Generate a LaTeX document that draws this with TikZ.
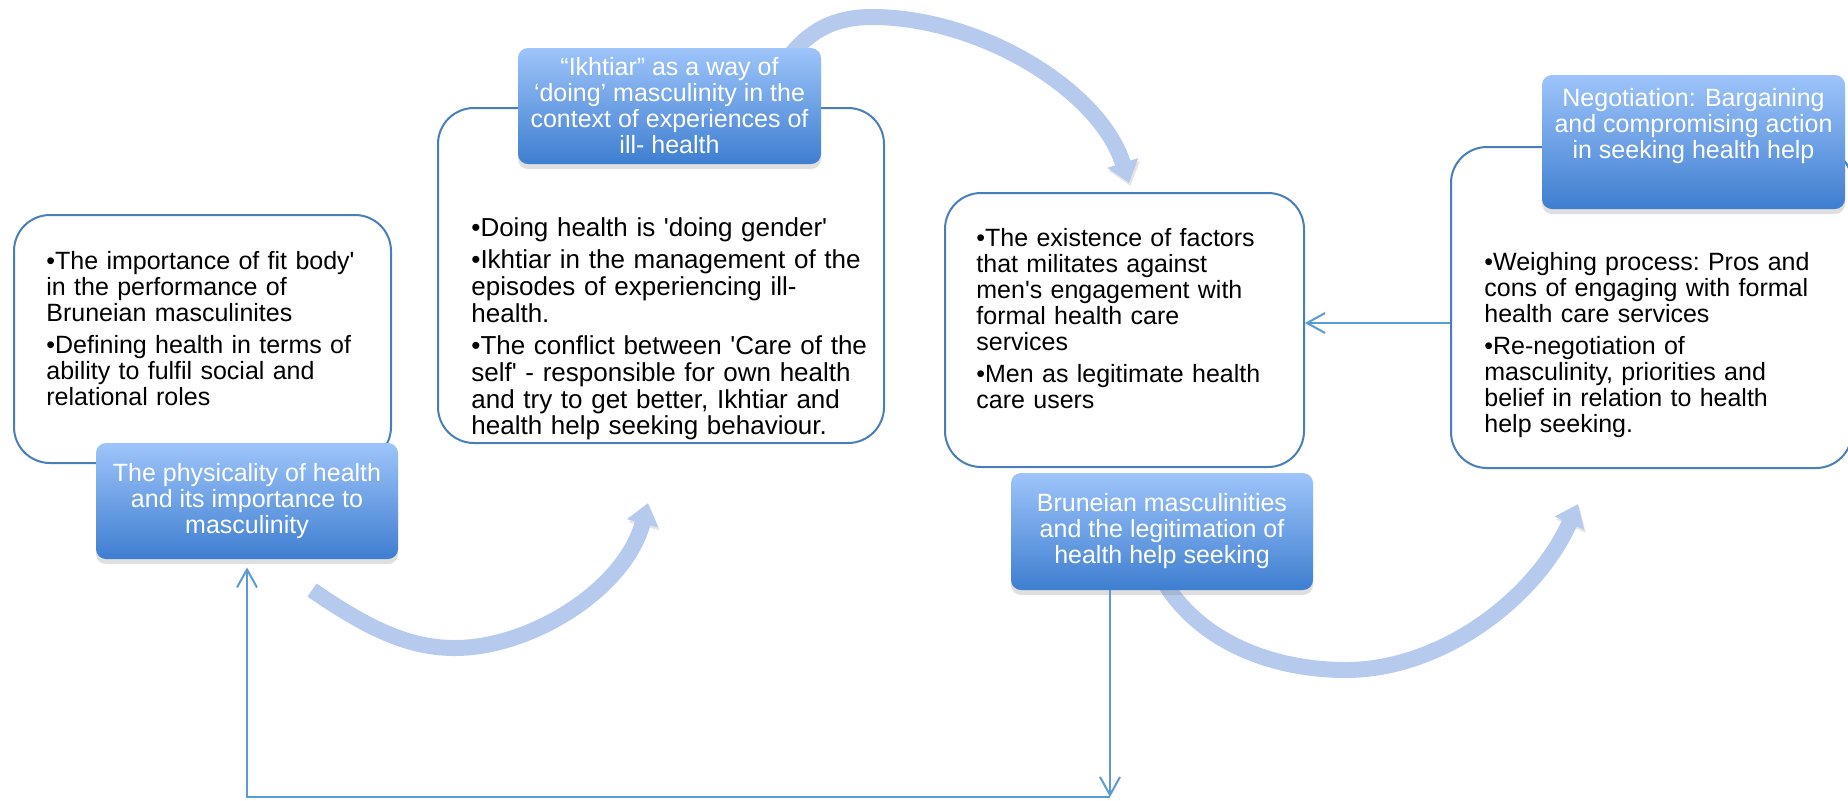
\documentclass[tikz,border=0pt]{standalone}
\usepackage{fontspec}
\newfontfamily\diagfont{Liberation Sans}
\usetikzlibrary{arrows.meta,shadows}

\definecolor{boxline}{HTML}{4A7EBB}
\definecolor{conline}{HTML}{5B9BD5}
\definecolor{labtop}{HTML}{9EC4FA}
\definecolor{labbot}{HTML}{3E7ED0}
\definecolor{swoosh}{HTML}{B6CAED}

\newlength{\bulletwd}
\newcommand{\bitem}[1]{\settowidth{\bulletwd}{•}\noindent\hangindent=\bulletwd\hangafter=1 •#1\par}
\newcommand{\bgap}{\vspace{2.75pt}}

\tikzset{
  wbox/.style={draw=boxline, line width=1pt, fill=white, rounded corners=18pt},
  btext/.style={font=\diagfont\frenchspacing\fontsize{12.5pt}{13pt}\selectfont, inner sep=0pt, anchor=north west, text width=#1},
  labtxt/.style={text=white, align=center, font=\diagfont\fontsize{12.5pt}{13pt}\selectfont},
  lab/.style={labtxt, rounded corners=5pt, top color=labtop, bottom color=labbot, draw=none,
    drop shadow={shadow xshift=0pt, shadow yshift=-2.5pt, opacity=0.25}},
  swooshline/.style={line width=8pt, draw=swoosh, -{Triangle[length=10.5pt, width=15.5pt]},
    preaction={draw=black, opacity=0.1, transform canvas={xshift=0.75pt, yshift=-1.5pt}}},
  conn/.style={draw=conline, line width=1pt},
  tipv/.style={-{Straight Barb[length=9pt, width=10pt]}}
}

\begin{document}
\begin{tikzpicture}[x=0.5pt, y=-0.5pt]
    \useasboundingbox (0,0) rectangle (1848,800);

    % white boxes
    \node[wbox, minimum width=188.5pt, minimum height=124pt] (b1) at (202.5,339) {};
    \node[wbox, minimum width=223pt, minimum height=167.5pt] (b2) at (661,275.5) {};
    \node[wbox, minimum width=179.5pt, minimum height=137pt] (b3) at (1124.5,330) {};
    \node[wbox, minimum width=200.5pt, minimum height=160.5pt] (b4) at (1651.5,307.5) {};

    \node[btext=165pt] (t1) at (46,251) {\bitem{The importance of fit body'\\in the performance of\\Bruneian masculinites}\bgap
      \bitem{Defining health in terms of\\ability to fulfil social and\\relational roles}};
    \node[btext=200pt, font=\diagfont\frenchspacing\fontsize{13pt}{13.4pt}\selectfont] (t2) at (471,217) {\bitem{Doing health is 'doing gender'}\bgap
      \bitem{Ikhtiar in the management of the\\episodes of experiencing ill-\\health.}\bgap
      \bitem{The conflict between 'Care of the\\self' - responsible for own health\\and try to get better, Ikhtiar and\\health help seeking behaviour.}};
    \node[btext=155pt] (t3) at (976,228) {\bitem{The existence of factors\\that militates against\\men's engagement with\\formal health care\\services}\bgap
      \bitem{Men as legitimate health\\care users}};
    \node[btext=175pt] (t4) at (1484,252) {\bitem{Weighing process: Pros and\\cons of engaging with formal\\health care services}\bgap
      \bitem{Re-negotiation of\\masculinity, priorities and\\belief in relation to health\\help seeking.}};

    % big curved arrows
    \draw[swooshline] (312,590) .. controls (370,630) and (410,648) .. (455,648) .. controls (530,648) and (625,590) .. (648,503);
    \draw[swooshline] (780,70) .. controls (805,30) and (835,17) .. (872,17) .. controls (980,17) and (1100,90) .. (1129,183);
    \draw[swooshline] (1160,575) .. controls (1195,640) and (1270,670) .. (1346,670) .. controls (1440,670) and (1535,600) .. (1578,504);

    % blue labels
    \node[lab, minimum width=151pt, minimum height=58pt] (l1) at (247,501) {The physicality of health\\and its importance to\\masculinity};
    \node[lab, minimum width=151.5pt, minimum height=58pt] (l2) at (669.5,106) {“Ikhtiar” as a way of\\‘doing’ masculinity in the\\context of experiences of\\ill- health};
    \node[lab, minimum width=151pt, minimum height=58.5pt] (l3) at (1162,531.5) {Bruneian masculinities\\and the legitimation of\\health help seeking};
    \node[lab, minimum width=151.5pt, minimum height=67pt] (l4) at (1693.5,142) {};
    \node[labtxt] (l4t) at (1693.5,126) {Negotiation: Bargaining\\and compromising action\\in seeking health help};

    % connectors
    \coordinate (a4) at ([yshift=-7.75pt]b4.west);
    \draw[conn, tipv] (a4) -- (a4 -| b3.east);

    \coordinate (d3) at ([xshift=-26pt]l3.south);
    \coordinate (u1) at ([yshift=-4pt]l1.south);
    \coordinate (bot) at (0,797);
    \draw[conn, tipv] (d3) -- (d3 |- bot);
    \draw[conn, tipv] (d3 |- bot) -- (u1 |- bot) -- (u1);
\end{tikzpicture}
\end{document}
